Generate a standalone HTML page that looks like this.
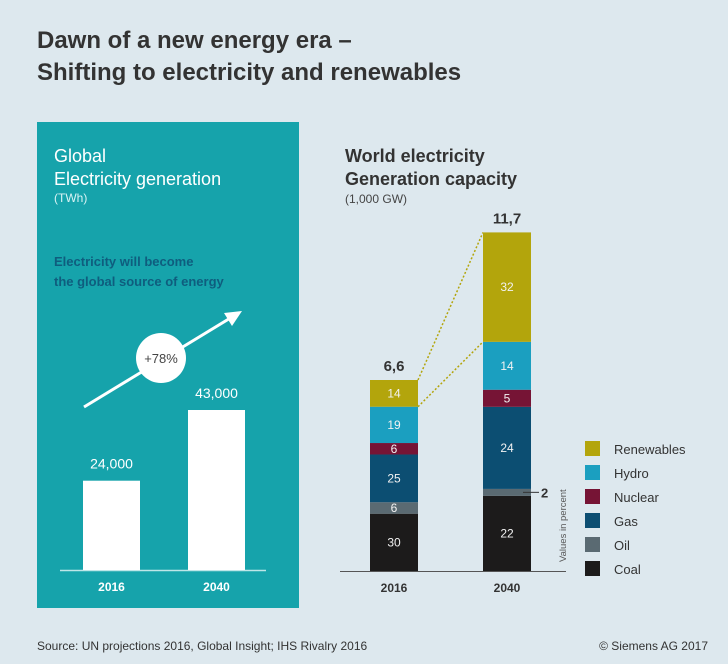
<!DOCTYPE html>
<html><head><meta charset="utf-8"><style>
html,body{margin:0;padding:0;background:#dde8ee;}
svg{display:block;font-family:"Liberation Sans",sans-serif;}
</style></head><body>
<svg id="c" width="728" height="664" viewBox="0 0 728 664">
<rect x="0" y="0" width="728" height="664" fill="#dde8ee"/>
<text x="37" y="48" font-size="24" font-weight="bold" fill="#333">Dawn of a new energy era –</text>
<text x="37" y="80" font-size="24" font-weight="bold" fill="#333">Shifting to electricity and renewables</text>
<rect x="37" y="122" width="262" height="486" fill="#16a3ab"/>
<text x="54" y="162" font-size="18" fill="#fff">Global</text>
<text x="54" y="185" font-size="18" fill="#fff">Electricity generation</text>
<text x="54" y="202" font-size="12" fill="#d9f3f4">(TWh)</text>
<text x="54" y="266" font-size="13" font-weight="bold" fill="#0f5d7e">Electricity will become</text>
<text x="54" y="286" font-size="13" font-weight="bold" fill="#0f5d7e">the global source of energy</text>
<line x1="84" y1="407" x2="232" y2="317" stroke="#fff" stroke-width="3"/>
<polygon points="242,311 224,313 232,326" fill="#fff"/>
<circle cx="161" cy="358" r="25" fill="#fff"/>
<text x="161" y="363" font-size="13" text-anchor="middle" fill="#444">+78%</text>
<line x1="60" y1="570.5" x2="266" y2="570.5" stroke="#bfe6e8" stroke-width="1.5"/>
<g id="left"></g>
<text x="345" y="162" font-size="18" font-weight="bold" fill="#333">World electricity</text>
<text x="345" y="185" font-size="18" font-weight="bold" fill="#333">Generation capacity</text>
<text x="345" y="203" font-size="12" fill="#444">(1,000 GW)</text>
<g id="right"></g>
<line x1="340" y1="571.5" x2="566" y2="571.5" stroke="#555" stroke-width="1"/>
<text transform="translate(566,562) rotate(-90)" font-size="9.5" fill="#555">Values in percent</text>
<g id="legend"></g>
<text x="37" y="650" font-size="12" fill="#333">Source: UN projections 2016, Global Insight; IHS Rivalry 2016</text>
<text x="708" y="650" font-size="12" fill="#333" text-anchor="end">© Siemens AG 2017</text>
</svg>
<script>
const genYears = ["2016", "2040"];
const genValues = [24000, 43000];
const genLabels = ["24,000", "43,000"];
const capYears = ["2016", "2040"];
const capTotals = [6.6, 11.7];
const capTotalLabels = ["6,6", "11,7"];
const sources = ["Coal", "Oil", "Gas", "Nuclear", "Hydro", "Renewables"];
const share2016 = [30, 6, 25, 6, 19, 14];
const share2040 = [22, 2, 24, 5, 14, 32];
const colors = {Coal:"#1c1b1b",Oil:"#5a6a72",Gas:"#0c4e72",Nuclear:"#761435",Hydro:"#1b9fc0",Renewables:"#b3a50c"};
const NS="http://www.w3.org/2000/svg";
function mk(tag, attrs, parent){const e=document.createElementNS(NS,tag);for(const k in attrs)e.setAttribute(k,attrs[k]);parent.appendChild(e);return e;}
// left chart
const L=document.getElementById('left');
const lBase=570, lScale=160/43000, lX=[83,188], lW=57;
genValues.forEach((v,i)=>{
  const h=v*lScale;
  const r=mk('rect',{x:lX[i],y:lBase-h,width:lW,height:h,fill:'#fff'},L);
  
  
  const t=mk('text',{x:lX[i]+lW/2,y:lBase-h-12,'font-size':14,'text-anchor':'middle',fill:'#fff'},L);
  t.textContent=genLabels[i];
  
  
  const y=mk('text',{x:lX[i]+lW/2,y:591,'font-size':12,'font-weight':'bold','text-anchor':'middle',fill:'#fff'},L);
  y.textContent=genYears[i];
  
  
});
// right chart
const R=document.getElementById('right');
const rBase=571, rScale=191/6.6, rX=[370,483], rW=48;
const shares=[share2016,share2040];
const renewEdges=[];
capTotals.forEach((tot,i)=>{
  const s=shares[i]; const sum=s.reduce((a,b)=>a+b,0);
  let y=rBase;
  const H=tot*rScale;
  s.forEach((p,j)=>{
    const h=H*p/sum; y-=h;
    const r=mk('rect',{x:rX[i],y:y,width:rW,height:h,fill:colors[sources[j]]},R);
    
    
    if(sources[j]==='Renewables') renewEdges.push([y,y+h]);
    if(p>=4){
      const t=mk('text',{x:rX[i]+rW/2,y:y+h/2+4,'font-size':12,'text-anchor':'middle',fill:'#f2f2f2'},R);
      t.textContent=p;
      
      
    } else {
      const l=mk('line',{x1:rX[i]+rW-8,y1:y+h/2,x2:rX[i]+rW+8,y2:y+h/2,stroke:'#333','stroke-width':1},R);
      
      
      const t=mk('text',{x:rX[i]+rW+10,y:y+h/2+5,'font-size':13,'font-weight':'bold',fill:'#333'},R);
      t.textContent=p;
      
      
    }
  });
  const tl=mk('text',{x:rX[i]+rW/2,y:rBase-H-9,'font-size':15,'font-weight':'bold','text-anchor':'middle',fill:'#333'},R);
  tl.textContent=capTotalLabels[i];
  
  
  const yl=mk('text',{x:rX[i]+rW/2,y:592,'font-size':12,'font-weight':'bold','text-anchor':'middle',fill:'#333'},R);
  yl.textContent=capYears[i];
  
  
});
[0,1].forEach(k=>{
  const l=mk('line',{x1:rX[0]+rW,y1:renewEdges[0][k],x2:rX[1],y2:renewEdges[1][k],stroke:'#b3a50c','stroke-width':1.5,'stroke-dasharray':'2,2'},R);
  
  
});
// legend
const G=document.getElementById('legend');
const order=["Renewables","Hydro","Nuclear","Gas","Oil","Coal"];
order.forEach((n,i)=>{
  const y=441+i*24;
  const r=mk('rect',{x:585,y:y,width:15,height:15,fill:colors[n]},G);
  
  
  const t=mk('text',{x:614,y:y+13,'font-size':13,fill:'#333'},G);
  t.textContent=n;
  
  
});
</script>
</body></html>
